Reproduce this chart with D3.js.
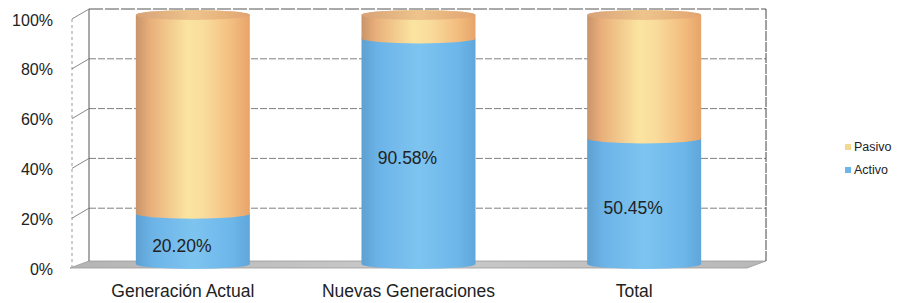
<!DOCTYPE html>
<html>
<head>
<meta charset="utf-8">
<script src="https://cdn.jsdelivr.net/npm/d3@7"></script>
<style>
  body { margin: 0; background: #fff; }
  text { font-family: "Liberation Sans", Arial, sans-serif; fill: #222; }
</style>
</head>
<body>
<div id="chart"></div>
<script>
//chart data
const categories = ["Generación Actual", "Nuevas Generaciones", "Total"];
const activo = [20.20, 90.58, 50.45];
const pasivo = [79.80, 9.42, 49.55];
const ticks = [0, 20, 40, 60, 80, 100];
const seriesNames = ["Pasivo", "Activo"];

const width = 900, height = 303;
//3d depth offsets (back wall and cylinders)
const depth = { dx: 19, dy: -10 };
const cyl = { dx: 10, dy: -4 };

const svg = d3
  .select("#chart")
  .append("svg")
  .attr("width", width)
  .attr("height", height);

const x = d3.scaleBand().domain(categories).range([70, 747]).padding(0);
const y = d3.scaleLinear().domain([0, 100]).range([268, 19]);

//gradients
const defs = svg.append("defs");
function grad(id, stops) {
  const g = defs.append("linearGradient").attr("id", id)
    .attr("x1", "0%").attr("x2", "100%").attr("y1", "0%").attr("y2", "0%");
  stops.forEach((s) => g.append("stop").attr("offset", s[0]).attr("stop-color", s[1]));
}
grad("orange", [["0%", "#c8946a"], ["12%", "#e8ae7a"], ["45%", "#fbe4a0"], ["60%", "#f9dc9c"], ["85%", "#f2bc7e"], ["100%", "#e8a46a"]]);
grad("orangeTop", [["0%", "#d8a276"], ["50%", "#eec48c"], ["100%", "#e2a470"]]);
grad("blue", [["0%", "#5ea0d2"], ["15%", "#6cb4e8"], ["50%", "#7ec4f0"], ["85%", "#6cb6ea"], ["100%", "#60a6da"]]);
grad("floor", [["0%", "#b4b4b4"], ["50%", "#cacaca"], ["100%", "#b8b8b8"]]);

const x0 = x.range()[0], x1 = x.range()[1];
const yb = (v) => y(v) + depth.dy;

//floor (a bit shallower than the walls)
svg.append("path")
  .attr("d", `M${x0},${y(0)} L${x1},${y(0)} L${x1 + depth.dx},${y(0) - 7} L${x0 + depth.dx},${y(0) - 7} Z`)
  .attr("fill", "url(#floor)")
  .attr("stroke", "#999")
  .attr("stroke-width", 0.8);

//back wall gridlines
svg.selectAll(".grid")
  .data(ticks.filter((d) => d > 0))
  .enter()
  .append("line")
  .attr("x1", x0 + depth.dx)
  .attr("x2", x1 + depth.dx)
  .attr("y1", (d) => yb(d))
  .attr("y2", (d) => yb(d))
  .attr("stroke", (d) => (d === 100 ? "#555" : "#808080"))
  .attr("stroke-width", 1)
  .style("stroke-dasharray", (d) => (d === 100 ? "14,2" : "7,2"));

//back wall edges
svg.append("line")
  .attr("x1", x0 + depth.dx).attr("x2", x0 + depth.dx)
  .attr("y1", yb(100)).attr("y2", y(0) - 7)
  .attr("stroke", "#555");
svg.append("line")
  .attr("x1", x1 + depth.dx).attr("x2", x1 + depth.dx)
  .attr("y1", yb(100)).attr("y2", y(0) - 7)
  .attr("stroke", "#444").style("stroke-dasharray", "10,1");

//side wall: front axis + diagonal ticks
svg.append("line")
  .attr("x1", x0 + 2).attr("x2", x0 + 2)
  .attr("y1", y(100)).attr("y2", y(0))
  .attr("stroke", "#999").style("stroke-dasharray", "3,3");
svg.selectAll(".tickdiag")
  .data(ticks.filter((d) => d > 0))
  .enter()
  .append("line")
  .attr("x1", x0 + 2)
  .attr("x2", x0 + depth.dx)
  .attr("y1", (d) => y(d))
  .attr("y2", (d) => yb(d))
  .attr("stroke", "#888");

//y labels
svg.selectAll(".ylab")
  .data(ticks)
  .enter()
  .append("text")
  .attr("x", 53)
  .attr("y", (d) => y(d) + 1)
  .attr("text-anchor", "end")
  .attr("dominant-baseline", "central")
  .style("font-size", "16px")
  .text((d) => d + "%");

//cylinders
const bw = 114, rx = bw / 2, ry = 5;
const cy = (v) => y(v) + cyl.dy;

function segment(cx, v0, v1) {
  const l = cx - rx, r = cx + rx, yt = cy(v1), ybt = cy(v0);
  return `M${l},${yt} L${l},${ybt} A${rx},${ry} 0 0 0 ${r},${ybt} L${r},${yt} A${rx},${ry} 0 0 0 ${l},${yt} Z`;
}

const bars = svg.selectAll(".cyl")
  .data(categories.map((c, i) => ({ c, a: activo[i], p: pasivo[i] })))
  .enter()
  .append("g")
  .attr("class", "cyl");

const cxOf = (d) => x(d.c) + x.bandwidth() / 2 + cyl.dx;

bars.append("path")
  .attr("d", (d) => segment(cxOf(d), 0, d.a))
  .attr("fill", "url(#blue)");
bars.append("path")
  .attr("d", (d) => segment(cxOf(d), d.a, d.a + d.p))
  .attr("fill", "url(#orange)");
bars.append("ellipse")
  .attr("cx", (d) => cxOf(d))
  .attr("cy", (d) => cy(d.a + d.p))
  .attr("rx", rx)
  .attr("ry", ry)
  .attr("fill", "url(#orangeTop)");

//data labels
bars.append("text")
  .attr("x", (d) => x(d.c) + x.bandwidth() / 2 - 1)
  .attr("y", (d) => y(d.a / 2) + 3)
  .attr("text-anchor", "middle")
  .attr("dominant-baseline", "central")
  .style("font-size", "17.5px")
  .text((d) => d.a.toFixed(2) + "%");

//category labels
svg.selectAll(".xlab")
  .data(categories)
  .enter()
  .append("text")
  .attr("x", (d) => x(d) + x.bandwidth() / 2)
  .attr("y", 297)
  .attr("text-anchor", "middle")
  .style("font-size", "17.5px")
  .text((d) => d);

//legend
const legendColors = ["#f4d890", "#6cb6ea"];
const legend = svg.selectAll(".legend")
  .data(seriesNames)
  .enter()
  .append("g")
  .attr("transform", (d, i) => `translate(845,${147 + i * 23})`);
legend.append("rect")
  .attr("x", 0).attr("y", -3)
  .attr("width", 6).attr("height", 6)
  .attr("fill", (d, i) => legendColors[i]);
legend.append("text")
  .attr("x", 9)
  .attr("y", 0)
  .attr("dominant-baseline", "central")
  .style("font-size", "12.5px")
  .text((d) => d);
</script>
</body>
</html>
